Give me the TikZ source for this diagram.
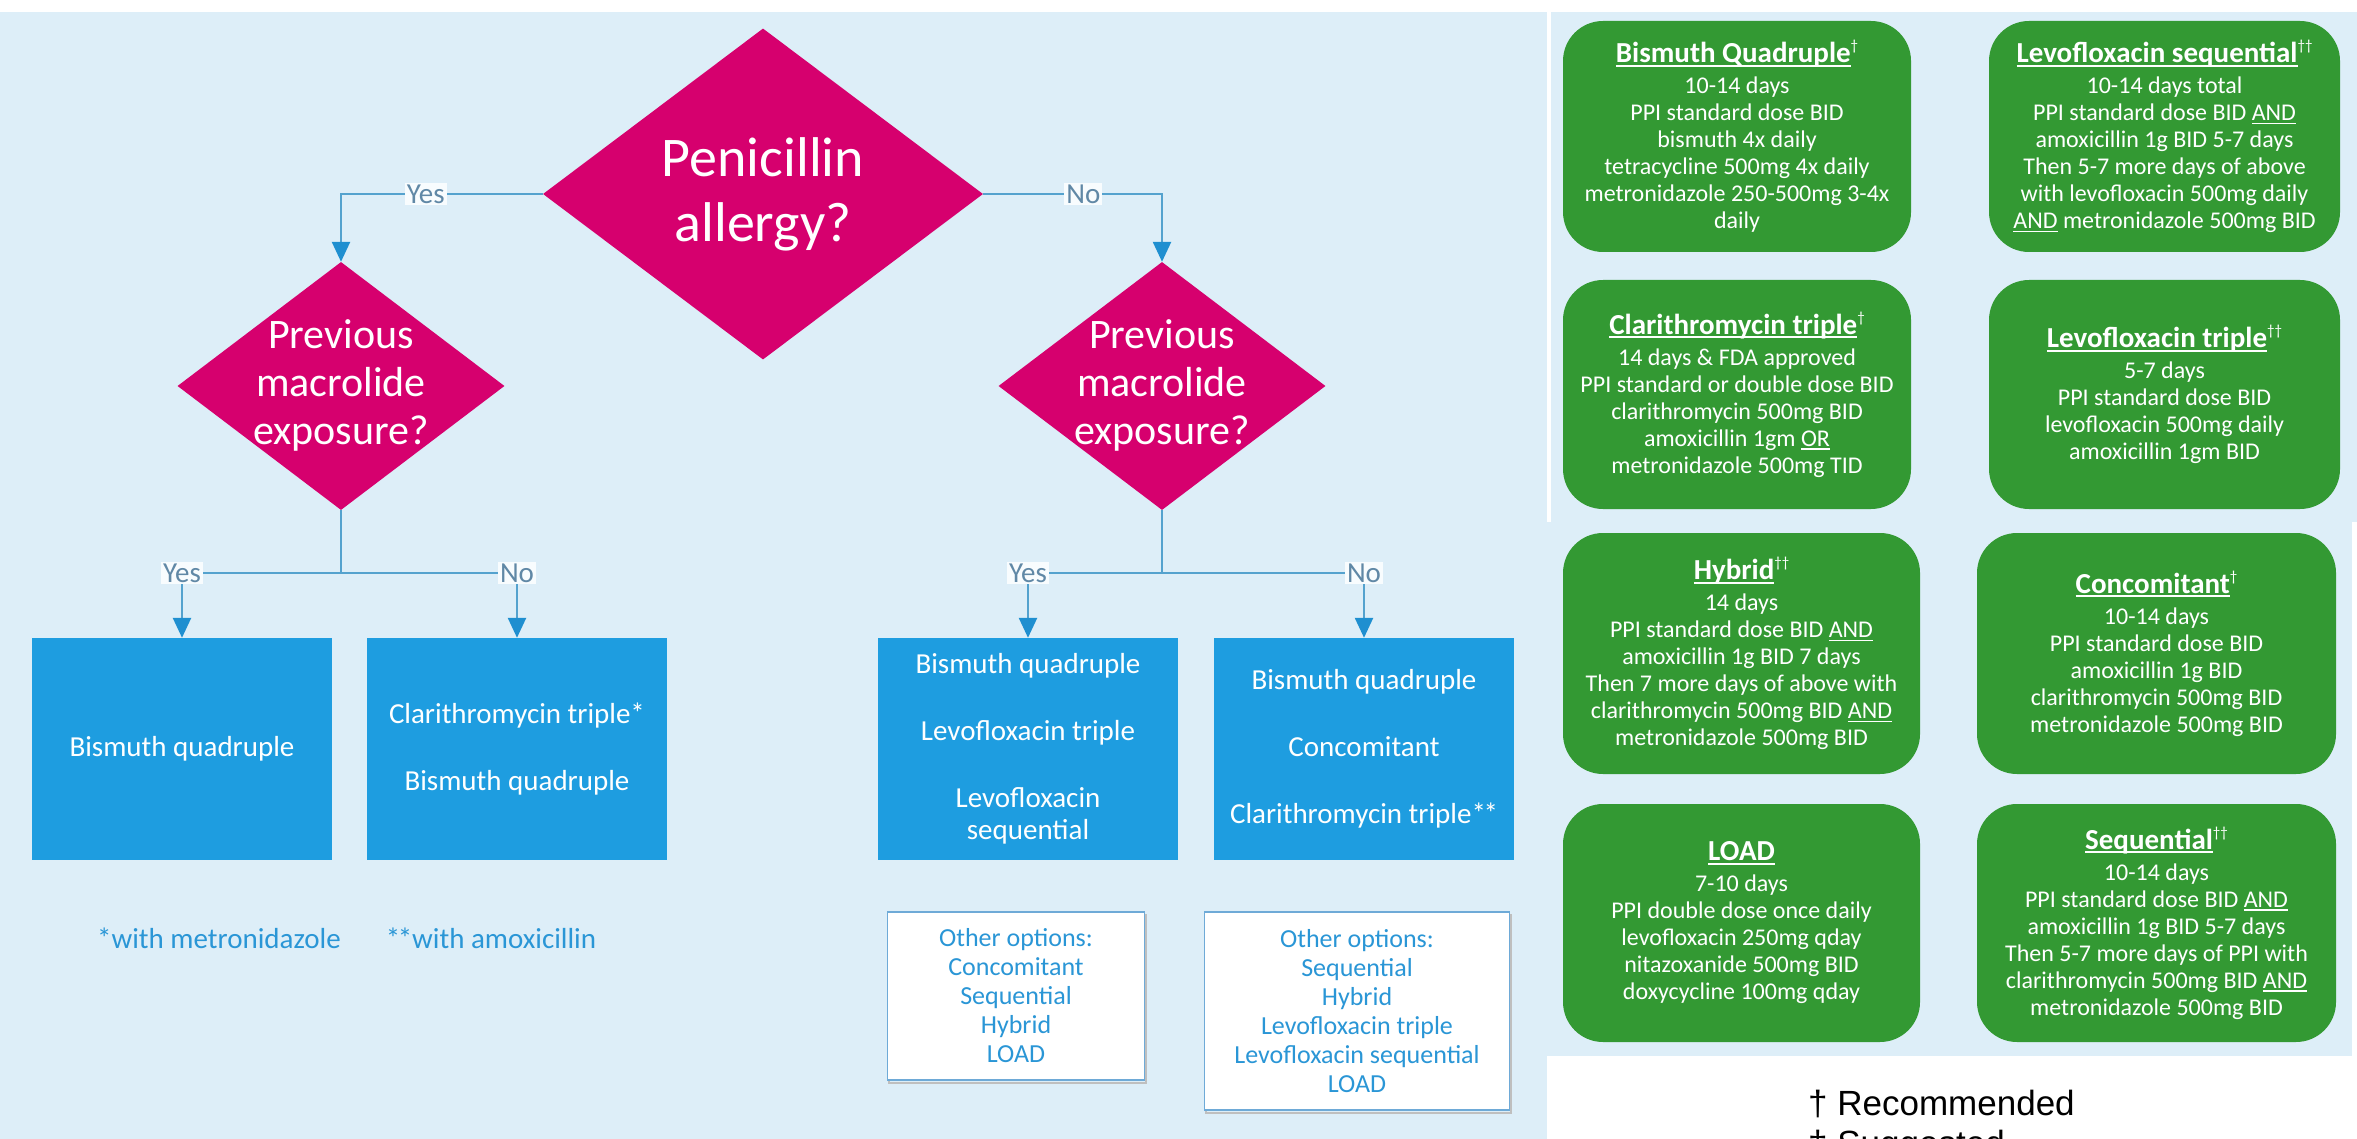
\documentclass[tikz,border=0pt]{standalone}
\usepackage{fontspec}
\setmainfont{Carlito}
\newfontfamily\arialfont{Liberation Sans}
\usetikzlibrary{shapes.geometric,arrows.meta}
\definecolor{bgblue}{RGB}{221,238,248}
\definecolor{pinkdec}{RGB}{214,0,110}
\definecolor{boxblue}{RGB}{30,157,224}
\definecolor{linecol}{RGB}{84,162,206}
\definecolor{headcol}{RGB}{31,143,208}
\definecolor{lblcol}{RGB}{96,136,166}
\definecolor{opttext}{RGB}{42,150,214}
\definecolor{optborder}{RGB}{110,170,215}
\definecolor{greenbox}{RGB}{51,153,51}
\newcommand\ulx[1]{\leavevmode\setbox0\hbox{#1}\rlap{\rule[-0.14em]{\wd0}{0.065em}}\box0\relax}
\newcommand\dgx[1]{\raisebox{0.42em}{\fontsize{15}{15}\selectfont\mdseries #1}}
\newcommand\gtitle[2]{{\fontsize{29}{30}\selectfont\bfseries\ulx{#1}\dgx{#2}}\\[4pt]}
\newcommand\twostar{*\kern-2.5pt*}
\begin{document}
\begin{tikzpicture}[x=1pt,y=-1pt,
  decision/.style={diamond, fill=pinkdec, draw=none, inner sep=0},
  dectext/.style={text=white, align=center, inner sep=0},
  bbox/.style={rectangle, fill=boxblue, minimum width=300, minimum height=222, text=white, align=center, font=\fontsize{29}{32}\selectfont, inner sep=0},
  optbox/.style={rectangle, fill=white, draw=optborder, line width=1.5, text=opttext, align=center, font=\fontsize{26}{29}\selectfont, inner sep=0,
     preaction={draw=black!25, line width=2, transform canvas={xshift=1.5pt,yshift=-2.5pt}}},
  foot/.style={text=opttext, font=\fontsize{29}{32}\selectfont, inner sep=0},
  gbox/.style={rectangle, rounded corners=40, fill=greenbox, text=white, align=center, font=\fontsize{24}{27}\selectfont, inner sep=0},
  plainline/.style={draw=linecol, line width=2.5},
  conn/.style={draw=linecol, line width=2.5, -{Triangle[width=18pt,length=20pt,color=headcol]}},
  lbl/.style={fill=white!80!bgblue, text=lblcol, font=\fontsize{29}{30}\selectfont, inner sep=2},
  legend/.style={anchor=base west, font=\arialfont\fontsize{35}{40}\selectfont, inner sep=0}
]
\useasboundingbox (0,0) rectangle (2357,1139);
\clip (0,0) rectangle (2357,1139);
% backgrounds
\fill[white] (0,0) rectangle (2357,1139);
\fill[bgblue] (0,12) rectangle (1547,1139);
\fill[bgblue] (1551,12) rectangle (2357,522);
\fill[bgblue] (1546,522) rectangle (2352,1056);

% decisions
\node[decision, minimum width=440, minimum height=331] (pen) at (763,194) {};
\node[dectext, font=\fontsize{56}{65}\selectfont] (pentext) at (763,194) {Penicillin\\allergy?};
\node[decision, minimum width=327, minimum height=248] (mlL) at (341,386) {};
\node[dectext, font=\fontsize{42}{48}\selectfont] (mlLtext) at (341,385) {Previous\\macrolide\\exposure?};
\node[decision, minimum width=327, minimum height=248] (mlR) at (1162,386) {};
\node[dectext, font=\fontsize{42}{48}\selectfont] (mlRtext) at (1162,385) {Previous\\macrolide\\exposure?};

% blue result boxes
\node[bbox] (b1) at (182,749) {Bismuth quadruple};
\node[bbox] (b2) at (517,749) {Clarithromycin triple*\\[35pt]Bismuth quadruple};
\node[bbox] (b3) at (1028,749) {Bismuth quadruple\\[35pt]Levofloxacin triple\\[35pt]Levofloxacin\\sequential};
\node[bbox] (b4) at (1364,749) {Bismuth quadruple\\[35pt]Concomitant\\[35pt]Clarithromycin triple\twostar};

% other options
\node[optbox, minimum width=257, minimum height=168] (o1) at (1016,996) {Other options:\\Concomitant\\Sequential\\Hybrid\\LOAD};
\node[optbox, minimum width=305, minimum height=198] (o2) at (1357,1011) {Other options:\\Sequential\\Hybrid\\Levofloxacin triple\\Levofloxacin sequential\\LOAD};

% footnotes
\node[foot] (f1) at (219,938) {*with metronidazole};
\node[foot] (f2) at (491,938) {\twostar with amoxicillin};

% connectors
\coordinate (jL) at (341,573);
\coordinate (jR) at (1162,573);
\draw[conn] (pen.west) -| (mlL.north) node[lbl,pos=0.29] (yes1) {Yes};
\draw[conn] (pen.east) -| (mlR.north) node[lbl,pos=0.28] (no1) {No};
\draw[plainline] (mlL.south) -- (jL);
\draw[plainline] (mlR.south) -- (jR);
\draw[conn] (jL) -| (b1.north) node[lbl,pos=0.5] (yes2) {Yes};
\draw[conn] (jL) -| (b2.north) node[lbl,pos=0.5] (no2) {No};
\draw[conn] (jR) -| (b3.north) node[lbl,pos=0.5] (yes3) {Yes};
\draw[conn] (jR) -| (b4.north) node[lbl,pos=0.5] (no3) {No};

% green regimen boxes
\node[gbox, minimum width=348, minimum height=231] (gBQ) at (1737,136.5) {\gtitle{Bismuth Quadruple}{†}10-14 days\\PPI standard dose BID\\bismuth 4x daily\\tetracycline 500mg 4x daily\\metronidazole 250-500mg 3-4x\\daily};
\node[gbox, minimum width=351, minimum height=231] (gLS) at (2164.5,136.5) {\gtitle{Levofloxacin sequential}{††}10-14 days total\\PPI standard dose BID \ulx{AND}\\amoxicillin 1g BID 5-7 days\\Then 5-7 more days of above\\with levofloxacin 500mg daily\\\ulx{AND} metronidazole 500mg BID};
\node[gbox, minimum width=348, minimum height=229] (gCT) at (1737,394.5) {\gtitle{Clarithromycin triple}{†}14 days \& FDA approved\\PPI standard or double dose BID\\clarithromycin 500mg BID\\amoxicillin 1gm \ulx{OR}\\metronidazole 500mg TID};
\node[gbox, minimum width=351, minimum height=229] (gLT) at (2164.5,394.5) {\gtitle{Levofloxacin triple}{††}5-7 days\\PPI standard dose BID\\levofloxacin 500mg daily\\amoxicillin 1gm BID};
\node[gbox, minimum width=357, minimum height=241] (gHY) at (1741.5,653.5) {\gtitle{Hybrid}{††}14 days\\PPI standard dose BID \ulx{AND}\\amoxicillin 1g BID 7 days\\Then 7 more days of above with\\clarithromycin 500mg BID \ulx{AND}\\metronidazole 500mg BID};
\node[gbox, minimum width=359, minimum height=241] (gCC) at (2156.5,653.5) {\gtitle{Concomitant}{†}10-14 days\\PPI standard dose BID\\amoxicillin 1g BID\\clarithromycin 500mg BID\\metronidazole 500mg BID};
\node[gbox, minimum width=357, minimum height=238] (gLD) at (1741.5,923) {\gtitle{LOAD}{}7-10 days\\PPI double dose once daily\\levofloxacin 250mg qday\\nitazoxanide 500mg BID\\doxycycline 100mg qday};
\node[gbox, minimum width=359, minimum height=238] (gSQ) at (2156.5,923) {\gtitle{Sequential}{††}10-14 days\\PPI standard dose BID \ulx{AND}\\amoxicillin 1g BID 5-7 days\\Then 5-7 more days of PPI with\\clarithromycin 500mg BID \ulx{AND}\\metronidazole 500mg BID};

% legend
\node[legend] (leg1) at (1808,1115) {† Recommended};
\node[legend] (leg2) at (1808,1155) {‡ Suggested};
\end{tikzpicture}
\end{document}
